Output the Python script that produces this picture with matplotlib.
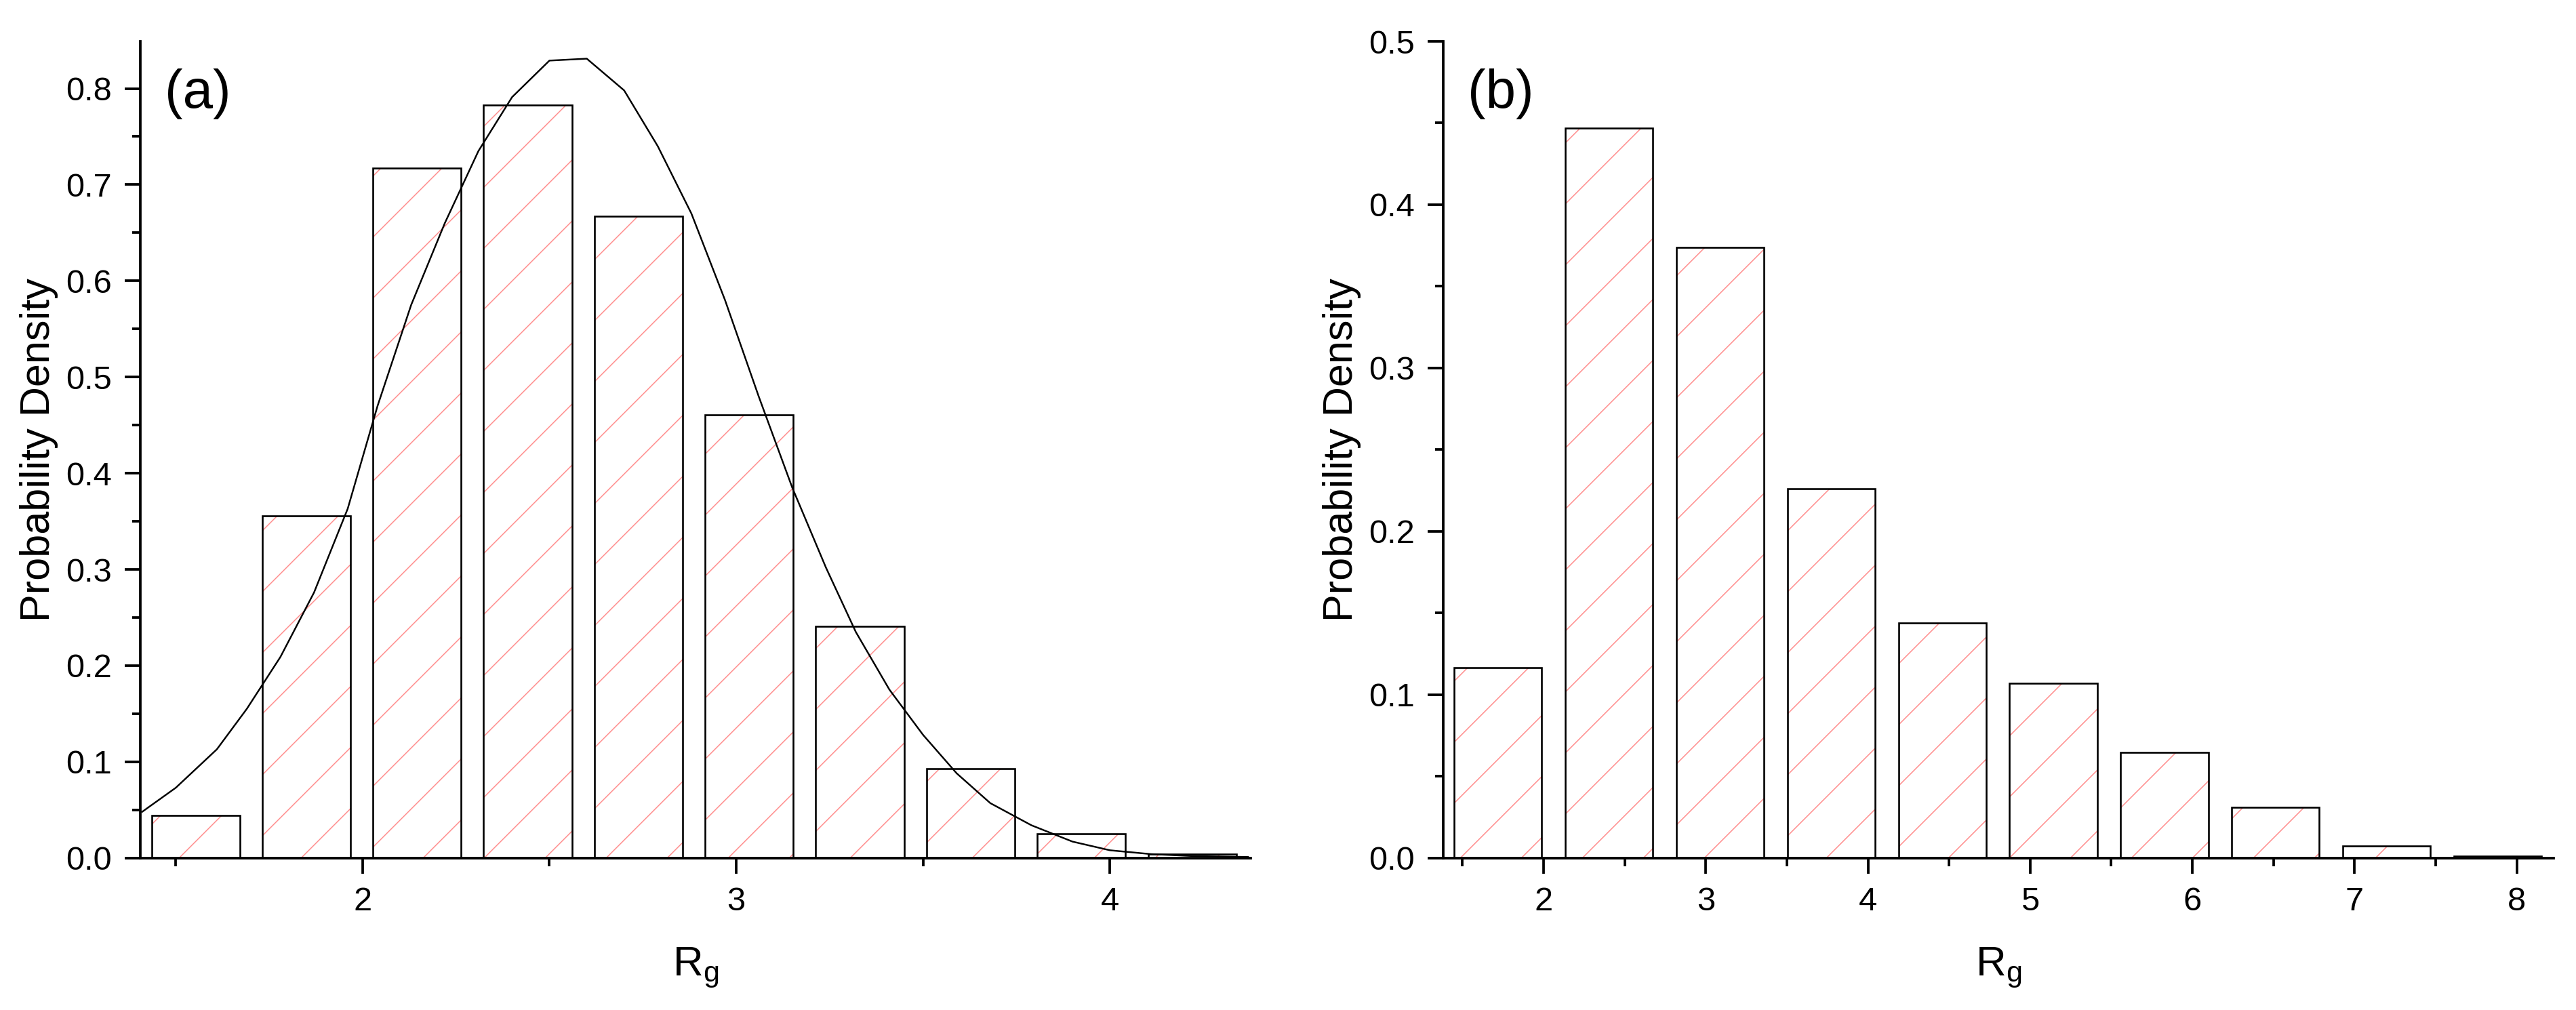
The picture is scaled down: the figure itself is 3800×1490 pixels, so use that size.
import matplotlib
matplotlib.use("Agg")
import matplotlib.pyplot as plt
import numpy as np

# panel (a): histogram + fitted curve
bins_a = [1.553, 1.849, 2.146, 2.442, 2.739, 3.035, 3.331, 3.628, 3.924, 4.221]
dens_a = [0.044, 0.356, 0.717, 0.783, 0.667, 0.461, 0.241, 0.093, 0.0255, 0.004]
fit_x = [1.41, 1.50, 1.61, 1.69, 1.78, 1.87, 1.96, 2.04, 2.13, 2.22, 2.31, 2.40,
         2.50, 2.60, 2.70, 2.79, 2.88, 2.97, 3.06, 3.15, 3.24, 3.32, 3.41, 3.50,
         3.59, 3.68, 3.79, 3.90, 4.00, 4.11, 4.22, 4.37]
fit_y = [0.048, 0.073, 0.113, 0.155, 0.209, 0.276, 0.363, 0.470, 0.575, 0.660,
         0.735, 0.791, 0.829, 0.831, 0.798, 0.740, 0.670, 0.580, 0.480, 0.385,
         0.302, 0.235, 0.175, 0.128, 0.088, 0.057, 0.034, 0.017, 0.008, 0.004,
         0.002, 0.001]

# panel (b): histogram
bins_b = [1.718, 2.403, 3.088, 3.773, 4.458, 5.143, 5.828, 6.513, 7.198, 7.883]
dens_b = [0.1166, 0.447, 0.374, 0.226, 0.1438, 0.1068, 0.0646, 0.0311, 0.0075, 0.001]

DPI = 270
plt.rcParams['font.family'] = ['Liberation Sans', 'DejaVu Sans']
plt.rcParams['hatch.linewidth'] = 0.4

fig = plt.figure(figsize=(3800 / DPI, 1490 / DPI), dpi=DPI)
ax_a = fig.add_axes([0.05447, 0.15054, 0.43105, 0.80852])
ax_b = fig.add_axes([0.56026, 0.15054, 0.43097, 0.80852])

hatch_col = '#ff8c8c'


def draw_bars(ax, x, h, w):
    # hatch layer, then black outline on top
    ax.bar(x, h, width=w, facecolor='white', edgecolor=hatch_col, hatch='/', linewidth=0)
    ax.bar(x, h, width=w, fill=False, edgecolor='black', linewidth=0.7)


def style_axes(ax, xlim, ylim, label):
    ax.set_xlim(*xlim)
    ax.set_ylim(*ylim)
    ax.spines['top'].set_visible(False)
    ax.spines['right'].set_visible(False)
    for s in ('left', 'bottom'):
        ax.spines[s].set_linewidth(1.0)
    ax.xaxis.set_major_locator(plt.MultipleLocator(1))
    ax.xaxis.set_minor_locator(plt.MultipleLocator(0.5))
    ax.yaxis.set_major_locator(plt.MultipleLocator(0.1))
    ax.yaxis.set_minor_locator(plt.MultipleLocator(0.05))
    ax.yaxis.set_major_formatter(plt.FormatStrFormatter('%.1f'))
    ax.tick_params(which='major', direction='out', length=6.2, width=1.0,
                   labelsize=13, pad=5)
    ax.tick_params(which='minor', direction='out', length=3.3, width=1.0)
    ax.set_ylabel('Probability Density', fontsize=16.3)
    ax.yaxis.set_label_coords(-0.074, 0.5)
    ax.set_xlabel(r'$\mathregular{R_g}$', fontsize=16.5)
    ax.xaxis.set_label_coords(0.5, -0.108)
    ax.text(0.022, 0.936, label, transform=ax.transAxes, fontsize=21.3,
            ha='left', va='center')


draw_bars(ax_a, bins_a, dens_a, 0.236)
ax_a.plot(fit_x, fit_y, color='black', linewidth=0.65)
style_axes(ax_a, (1.405, 4.377), (0, 0.849), '(a)')

draw_bars(ax_b, bins_b, dens_b, 0.540)
style_axes(ax_b, (1.381, 8.226), (0, 0.5), '(b)')

fig.savefig('out.png', dpi=DPI)
